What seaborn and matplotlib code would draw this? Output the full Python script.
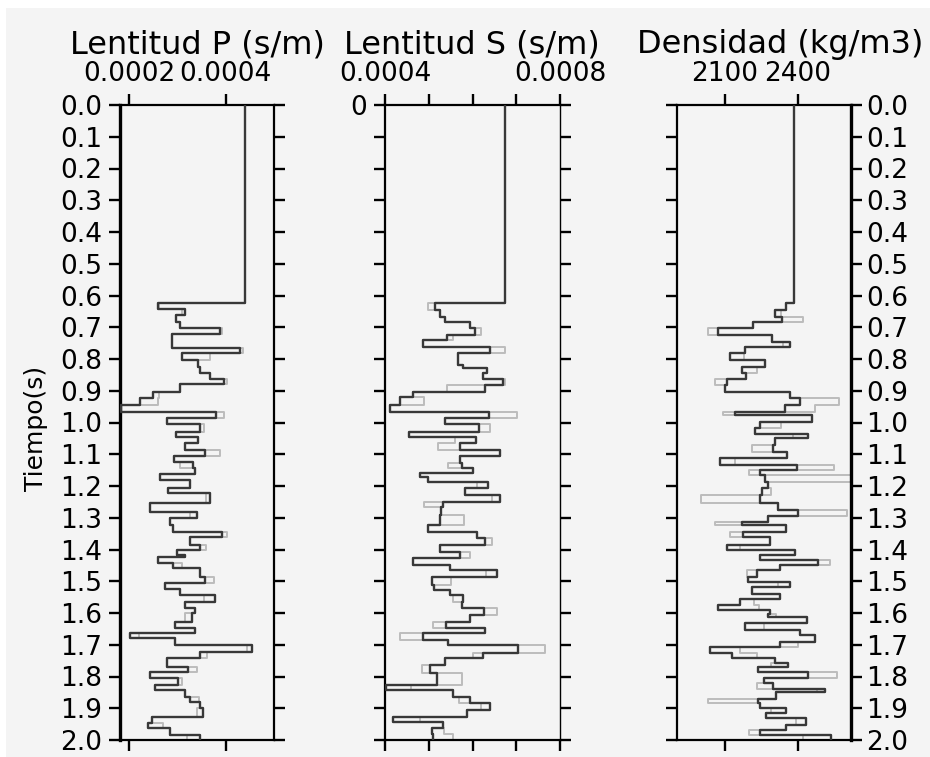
import matplotlib
matplotlib.use("Agg")
import matplotlib.pyplot as plt
import seaborn as sns
import pandas as pd
from matplotlib.patches import Rectangle

# ---------------- data ----------------
P_time = [0.000, 0.625, 0.643, 0.661, 0.682, 0.701, 0.722, 0.764, 0.780, 0.803,
          0.824, 0.845, 0.864, 0.880, 0.903, 0.922, 0.945, 0.966, 0.987, 1.005,
          1.029, 1.045, 1.066, 1.087, 1.106, 1.123, 1.144, 1.163, 1.181, 1.207,
          1.223, 1.255, 1.281, 1.302, 1.323, 1.344, 1.360, 1.386, 1.400, 1.417,
          1.425, 1.444, 1.459, 1.486, 1.507, 1.525, 1.543, 1.564, 1.585, 1.601,
          1.627, 1.648, 1.664, 1.680, 1.701, 1.722, 1.743, 1.769, 1.785, 1.806,
          1.827, 1.843, 1.864, 1.879, 1.900, 1.926, 1.947, 1.963, 1.984]
P_main = [4.39e-4, 2.60e-4, 3.15e-4, 2.97e-4, 3.05e-4, 3.88e-4, 2.89e-4, 4.29e-4, 3.09e-4, 3.42e-4,
          3.46e-4, 3.67e-4, 3.96e-4, 3.05e-4, 2.49e-4, 2.23e-4, 1.83e-4, 3.79e-4, 2.78e-4, 3.46e-4,
          2.97e-4, 3.42e-4, 3.15e-4, 3.57e-4, 2.93e-4, 3.32e-4, 3.36e-4, 2.64e-4, 3.26e-4, 2.80e-4,
          3.67e-4, 2.43e-4, 3.40e-4, 2.85e-4, 2.91e-4, 3.92e-4, 3.26e-4, 3.46e-4, 2.99e-4, 3.15e-4,
          2.60e-4, 2.91e-4, 3.46e-4, 3.57e-4, 2.74e-4, 3.05e-4, 3.77e-4, 3.15e-4, 3.36e-4, 3.30e-4,
          2.95e-4, 3.36e-4, 2.02e-4, 2.95e-4, 4.54e-4, 3.46e-4, 2.78e-4, 3.22e-4, 2.43e-4, 3.01e-4,
          2.54e-4, 3.15e-4, 3.26e-4, 3.46e-4, 3.53e-4, 2.47e-4, 2.39e-4, 2.85e-4, 3.46e-4]
P_ghost = [4.39e-4, 2.62e-4, 3.10e-4, 2.97e-4, 3.05e-4, 3.92e-4, 2.89e-4, 4.35e-4, 3.67e-4, 3.42e-4,
           3.46e-4, 3.67e-4, 4.02e-4, 3.05e-4, 2.62e-4, 2.60e-4, 1.83e-4, 3.96e-4, 2.78e-4, 3.55e-4,
           2.97e-4, 3.42e-4, 3.15e-4, 3.88e-4, 2.93e-4, 3.05e-4, 3.36e-4, 2.64e-4, 3.26e-4, 2.80e-4,
           3.60e-4, 2.43e-4, 3.25e-4, 2.85e-4, 2.91e-4, 4.02e-4, 3.26e-4, 3.60e-4, 2.99e-4, 3.15e-4,
           2.60e-4, 3.10e-4, 3.46e-4, 3.75e-4, 2.74e-4, 3.05e-4, 3.55e-4, 3.15e-4, 3.36e-4, 3.15e-4,
           2.95e-4, 3.36e-4, 2.20e-4, 2.95e-4, 4.45e-4, 3.62e-4, 2.78e-4, 3.40e-4, 2.43e-4, 3.10e-4,
           2.54e-4, 3.15e-4, 3.45e-4, 3.46e-4, 3.40e-4, 2.47e-4, 2.70e-4, 2.85e-4, 3.20e-4]

S_time = [0.000, 0.625, 0.646, 0.667, 0.682, 0.703, 0.724, 0.740, 0.761, 0.782,
          0.819, 0.829, 0.845, 0.864, 0.882, 0.903, 0.919, 0.945, 0.966, 0.987,
          1.005, 1.029, 1.045, 1.066, 1.087, 1.106, 1.128, 1.144, 1.160, 1.172,
          1.186, 1.207, 1.228, 1.249, 1.265, 1.291, 1.323, 1.344, 1.365, 1.386,
          1.407, 1.428, 1.449, 1.465, 1.486, 1.512, 1.528, 1.543, 1.564, 1.585,
          1.606, 1.627, 1.648, 1.664, 1.685, 1.701, 1.727, 1.743, 1.764, 1.790,
          1.827, 1.843, 1.864, 1.885, 1.906, 1.926, 1.942, 1.963, 1.980]
S_main = [6.74e-4, 5.14e-4, 5.26e-4, 5.37e-4, 5.94e-4, 6.06e-4, 5.42e-4, 4.87e-4, 6.40e-4, 5.67e-4,
          5.78e-4, 6.33e-4, 6.24e-4, 6.70e-4, 6.29e-4, 4.64e-4, 4.34e-4, 4.11e-4, 6.38e-4, 5.37e-4,
          6.15e-4, 4.55e-4, 6.08e-4, 5.71e-4, 6.63e-4, 5.71e-4, 5.76e-4, 6.01e-4, 4.80e-4, 4.98e-4,
          6.35e-4, 5.83e-4, 6.63e-4, 5.33e-4, 5.28e-4, 5.26e-4, 4.98e-4, 6.10e-4, 6.29e-4, 5.26e-4,
          5.71e-4, 4.64e-4, 5.49e-4, 6.56e-4, 5.07e-4, 5.12e-4, 5.49e-4, 5.78e-4, 5.76e-4, 6.26e-4,
          5.94e-4, 5.39e-4, 6.29e-4, 4.87e-4, 5.44e-4, 7.04e-4, 6.24e-4, 5.37e-4, 5.03e-4, 5.19e-4,
          4.02e-4, 5.55e-4, 5.94e-4, 6.40e-4, 5.87e-4, 4.18e-4, 5.33e-4, 5.07e-4, 5.10e-4]
S_ghost = [6.74e-4, 4.98e-4, 5.26e-4, 5.37e-4, 5.94e-4, 6.20e-4, 5.55e-4, 4.87e-4, 6.75e-4, 5.67e-4,
           5.78e-4, 6.33e-4, 6.24e-4, 6.75e-4, 5.42e-4, 4.64e-4, 4.90e-4, 4.11e-4, 7.02e-4, 5.37e-4,
           6.40e-4, 4.55e-4, 5.60e-4, 5.20e-4, 6.63e-4, 5.71e-4, 5.45e-4, 6.01e-4, 4.80e-4, 4.98e-4,
           6.10e-4, 5.83e-4, 6.45e-4, 4.90e-4, 5.28e-4, 5.80e-4, 4.98e-4, 6.10e-4, 6.45e-4, 5.26e-4,
           5.95e-4, 4.64e-4, 5.49e-4, 6.30e-4, 5.50e-4, 5.12e-4, 5.49e-4, 5.55e-4, 5.76e-4, 6.55e-4,
           5.94e-4, 5.10e-4, 6.29e-4, 4.35e-4, 5.44e-4, 7.65e-4, 6.00e-4, 5.37e-4, 4.85e-4, 5.75e-4,
           4.60e-4, 5.55e-4, 5.70e-4, 6.20e-4, 5.87e-4, 4.80e-4, 5.33e-4, 5.35e-4, 5.55e-4]

D_time = [0.000, 0.625, 0.646, 0.667, 0.682, 0.703, 0.724, 0.745, 0.761, 0.780,
          0.803, 0.824, 0.845, 0.864, 0.882, 0.903, 0.924, 0.945, 0.966, 0.977,
          0.998, 1.017, 1.035, 1.050, 1.071, 1.092, 1.113, 1.134, 1.150, 1.165,
          1.186, 1.207, 1.228, 1.254, 1.276, 1.296, 1.312, 1.323, 1.344, 1.360,
          1.386, 1.402, 1.417, 1.433, 1.449, 1.465, 1.486, 1.502, 1.518, 1.539,
          1.555, 1.575, 1.590, 1.604, 1.612, 1.633, 1.652, 1.670, 1.691, 1.707,
          1.727, 1.743, 1.759, 1.770, 1.785, 1.806, 1.822, 1.838, 1.848, 1.870,
          1.885, 1.900, 1.916, 1.932, 1.953, 1.969, 1.985]
D_main = [2384, 2351, 2306, 2334, 2215, 2071, 2293, 2367, 2182, 2121,
          2264, 2170, 2186, 2108, 2100, 2367, 2408, 2347, 2141, 2458,
          2244, 2223, 2441, 2306, 2297, 2355, 2079, 2396, 2244, 2264,
          2277, 2252, 2244, 2318, 2400, 2277, 2170, 2351, 2174, 2285,
          2108, 2388, 2244, 2482, 2326, 2232, 2195, 2367, 2211, 2326,
          2162, 2071, 2285, 2277, 2437, 2182, 2408, 2470, 2326, 2038,
          2129, 2306, 2359, 2236, 2441, 2260, 2297, 2511, 2310, 2236,
          2244, 2351, 2269, 2433, 2351, 2244, 2536]
D_ghost = [2384, 2351, 2330, 2420, 2215, 2030, 2293, 2340, 2182, 2180,
           2264, 2230, 2186, 2060, 2100, 2367, 2570, 2470, 2090, 2458,
           2330, 2223, 2380, 2306, 2210, 2355, 2140, 2550, 2200, 2650,
           2277, 2290, 2000, 2318, 2600, 2277, 2060, 2351, 2120, 2285,
           2160, 2388, 2244, 2530, 2326, 2190, 2195, 2320, 2211, 2326,
           2220, 2240, 2285, 2310, 2437, 2260, 2408, 2470, 2400, 2160,
           2230, 2306, 2290, 2236, 2560, 2260, 2230, 2480, 2310, 2030,
           2244, 2290, 2269, 2390, 2351, 2200, 2420]

Y_TICKS = [0.0, 0.1, 0.2, 0.3, 0.4, 0.5, 0.6, 0.7, 0.8, 0.9, 1.0,
           1.1, 1.2, 1.3, 1.4, 1.5, 1.6, 1.7, 1.8, 1.9, 2.0]
Y_LABELS = ["0.0", "0.1", "0.2", "0.3", "0.4", "0.5", "0.6", "0.7", "0.8", "0.9", "1.0",
            "1.1", "1.2", "1.3", "1.4", "1.5", "1.6", "1.7", "1.8", "1.9", "2.0"]
T_END = 2.0

P_XTICKS = [0.0002, 0.0004]
P_XLABELS = ["0.0002", "0.0004"]
S_XTICKS = [0.0004, 0.0005, 0.0006, 0.0007, 0.0008]
S_XLABELS = ["0.0004", "", "", "", "0.0008"]
D_XTICKS = [2100, 2400]
D_XLABELS = ["2100", "2400"]

TITLES = ["Lentitud P (s/m)", "Lentitud S (s/m)", "Densidad (kg/m3)"]
YLABEL = "Tiempo(s)"


def step_frame(times, values):
    rows = []
    bounds = list(times[1:]) + [T_END]
    for t0, t1, v in zip(times, bounds, values):
        rows.append((v, t0))
        rows.append((v, t1))
    return pd.DataFrame(rows, columns=["v", "t"])


sns.set_theme(style="ticks")
plt.rcParams["font.family"] = ["DejaVu Sans"]
plt.rcParams["text.color"] = "black"

BG = "#f4f4f4"
W, H = 930, 757
fig = plt.figure(figsize=(W / 100, H / 100), dpi=100, facecolor="white")
fig.patches.append(Rectangle((6 / W, 0), 1, 1 - 8 / H, transform=fig.transFigure,
                             facecolor=BG, edgecolor="none", zorder=-10))

bottom = 1 - 740 / H
height = (740 - 105) / H
ax_p = fig.add_axes([120 / W, bottom, 154 / W, height])
ax_s = fig.add_axes([385 / W, bottom, 175 / W, height])
ax_d = fig.add_axes([677 / W, bottom, 174 / W, height])

panels = [
    (ax_p, P_time, P_main, P_ghost, (1.81e-4, 5.0e-4), P_XTICKS, P_XLABELS),
    (ax_s, S_time, S_main, S_ghost, (4.0e-4, 8.0e-4), S_XTICKS, S_XLABELS),
    (ax_d, D_time, D_main, D_ghost, (1903, 2618), D_XTICKS, D_XLABELS),
]

for ax, tt, vm, vg, xl, xt, xlab in panels:
    ax.set_facecolor(BG)
    sns.lineplot(data=step_frame(tt, vg), x="v", y="t", sort=False, estimator=None,
                 ax=ax, color="#bcbcbc", lw=1.4, zorder=2)
    sns.lineplot(data=step_frame(tt, vm), x="v", y="t", sort=False, estimator=None,
                 ax=ax, color="#383838", lw=1.7, zorder=3)
    ax.set_xlim(*xl)
    ax.set_ylim(2.0, 0.0)
    ax.set_xlabel("")
    ax.set_ylabel("")
    ax.set_xticks(xt)
    ax.set_xticklabels(xlab)
    ax.set_yticks(Y_TICKS)
    ax.tick_params(axis="both", direction="out", length=8, width=1.7, color="black",
                   labelsize=19, labelcolor="black")
    ax.tick_params(axis="x", top=True, labeltop=True, bottom=True, labelbottom=False, pad=5)
    for sp in ax.spines.values():
        sp.set_visible(True)
        sp.set_linewidth(1.6)
        sp.set_color("black")

# left panel: labels on left, ticks both sides
ax_p.set_yticklabels(Y_LABELS)
ax_p.tick_params(axis="y", left=True, right=True, labelleft=True, labelright=False, pad=5)
ax_p.spines["left"].set_linewidth(2.4)

# middle panel: only "0" label
ax_s.set_yticklabels(["0"] + [""] * (len(Y_TICKS) - 1))
ax_s.tick_params(axis="y", left=True, right=True, labelleft=True, labelright=False, pad=5)
ax_s.spines["right"].set_linewidth(1.0)

# right panel: labels on right
ax_d.set_yticklabels(Y_LABELS)
ax_d.tick_params(axis="y", left=True, right=True, labelleft=False, labelright=True, pad=3)
ax_d.spines["right"].set_linewidth(2.4)

for cx, title in zip([197, 472, 780], TITLES):
    fig.text(cx / W, 1 - 45 / H, title, ha="center", va="center", fontsize=23, color="black")

fig.text(36 / W, 1 - 428 / H, YLABEL, rotation=90, ha="center", va="center",
         fontsize=18, color="black")

fig.savefig("out.png", dpi=100, facecolor=fig.get_facecolor())
